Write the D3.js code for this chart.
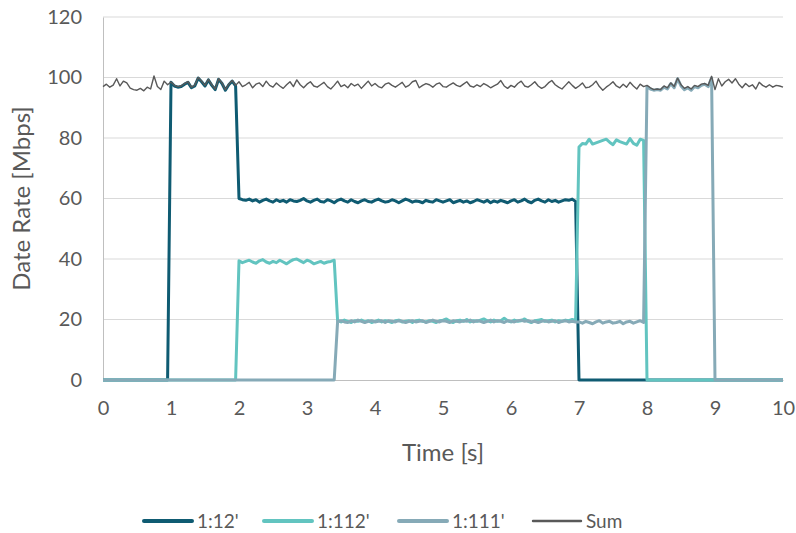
<!DOCTYPE html>
<html>
<head>
<meta charset="utf-8">
<script src="https://cdn.jsdelivr.net/npm/d3@7"></script>
<style>
	body { margin: 0; background: #fff; }
	svg text { font-family: Lato, "Open Sans", sans-serif; fill: #595959; }
</style>
</head>
<body>
<div id="chart"></div>
<script>
// Samples every 0.05 s, from 0 to 10 s (201 samples per series)
const sampleStep = 0.05;

const seriesNames = ["1:12'", "1:112'", "1:111'", "Sum"];
const xTicks = [0, 1, 2, 3, 4, 5, 6, 7, 8, 9, 10];
const yTicks = [0, 20, 40, 60, 80, 100, 120];

const rate12 = [
	0, 0, 0, 0, 0, 0, 0, 0, 0, 0, 0, 0, 0, 0, 0, 0, 0, 0, 0, 0,
	98.4, 97.2, 96.8, 97.0, 97.8, 98.4, 96.6, 97.2, 99.8, 98.6, 97.2, 99.2, 97.4, 96.0, 99.4, 98.0, 95.8, 97.6, 98.8, 97.2,
	60.0, 59.6, 59.4, 59.8, 59.2, 59.6, 58.8, 59.4, 59.8, 59.2, 58.8, 59.6, 59.0, 59.4, 58.8, 59.6, 59.2, 59.0, 59.4, 60.0,
	59.2, 58.8, 59.4, 59.8, 59.0, 58.8, 59.6, 59.2, 58.6, 59.4, 59.8, 59.2, 58.8, 59.6, 59.0, 58.6, 59.2, 59.6, 59.0, 58.8,
	59.4, 59.8, 59.2, 58.8, 59.0, 59.6, 59.2, 58.6, 59.2, 59.8, 59.4, 58.8, 59.2, 59.0, 58.6, 59.4, 59.0, 58.8, 59.6, 59.2,
	58.8, 59.2, 59.6, 58.6, 59.0, 59.4, 58.8, 59.2, 58.6, 59.0, 59.6, 59.2, 58.8, 59.4, 58.6, 59.2, 58.8, 59.4, 59.0, 58.6,
	59.2, 59.6, 58.8, 59.2, 59.8, 59.0, 58.6, 59.4, 59.8, 59.2, 58.8, 59.6, 59.0, 59.4, 58.8, 59.2, 59.6, 59.4, 59.8, 59.0,
	0, 0, 0, 0, 0, 0, 0, 0, 0, 0, 0, 0, 0, 0, 0, 0, 0, 0, 0, 0,
	0, 0, 0, 0, 0, 0, 0, 0, 0, 0, 0, 0, 0, 0, 0, 0, 0, 0, 0, 0,
	0, 0, 0, 0, 0, 0, 0, 0, 0, 0, 0, 0, 0, 0, 0, 0, 0, 0, 0, 0,
	0
];

const rate112 = [
	0, 0, 0, 0, 0, 0, 0, 0, 0, 0, 0, 0, 0, 0, 0, 0, 0, 0, 0, 0,
	0, 0, 0, 0, 0, 0, 0, 0, 0, 0, 0, 0, 0, 0, 0, 0, 0, 0, 0, 0,
	39.4, 38.8, 39.2, 39.6, 39.0, 38.6, 39.4, 39.8, 39.0, 38.6, 39.2, 38.8, 39.6, 39.0, 38.4, 39.2, 39.8, 40.0, 39.4, 38.8,
	39.6, 39.2, 38.4, 38.8, 39.2, 38.6, 39.0, 39.2, 39.6,
	19.6, 19.2, 19.8, 19.4, 19.0, 19.6, 19.4, 19.8, 19.2, 19.6,
	19.0, 19.4, 19.8, 19.2, 19.6, 19.4, 19.0, 19.6, 19.8, 19.2,
	19.4, 19.6, 19.0, 19.6, 19.8, 19.4, 19.2, 19.6, 19.4, 19.0,
	19.6, 19.8, 20.2, 19.4, 19.0, 19.6, 19.8, 19.4, 20.0, 19.2,
	19.6, 19.4, 19.8, 20.2, 19.6, 19.2, 19.8, 19.4, 19.6, 20.4,
	19.6, 19.2, 19.8, 19.4, 19.6, 20.2, 19.4, 19.0, 19.6, 19.8,
	20.0, 19.4, 19.6, 19.8, 19.2, 19.6, 19.4, 19.8, 19.6, 20.0,
	19.6,
	77.0, 78.2, 78.0, 79.6, 78.0, 78.4, 78.8, 79.2, 79.6, 78.6, 77.8, 79.4, 78.8, 78.4, 78.0, 79.8, 78.2, 77.6, 79.6, 79.2,
	0, 0, 0, 0, 0, 0, 0, 0, 0, 0, 0, 0, 0, 0, 0, 0, 0, 0, 0, 0,
	0, 0, 0, 0, 0, 0, 0, 0, 0, 0, 0, 0, 0, 0, 0, 0, 0, 0, 0, 0,
	0
];

const rate111 = [
	0, 0, 0, 0, 0, 0, 0, 0, 0, 0, 0, 0, 0, 0, 0, 0, 0, 0, 0, 0,
	0, 0, 0, 0, 0, 0, 0, 0, 0, 0, 0, 0, 0, 0, 0, 0, 0, 0, 0, 0,
	0, 0, 0, 0, 0, 0, 0, 0, 0, 0, 0, 0, 0, 0, 0, 0, 0, 0, 0, 0,
	0, 0, 0, 0, 0, 0, 0, 0, 0,
	19.4, 19.6, 19.2, 19.0, 19.6, 19.2, 19.8, 19.4, 19.0, 19.4,
	19.6, 19.2, 19.4, 19.6, 19.0, 19.6, 19.4, 19.2, 19.6, 19.4,
	19.0, 19.4, 19.6, 19.2, 19.4, 19.6, 19.0, 19.4, 19.8, 19.4,
	19.2, 19.6, 19.4, 19.0, 19.6, 19.4, 19.2, 19.6, 19.4, 19.8,
	19.2, 19.6, 19.4, 19.0, 19.4, 19.8, 19.2, 19.6, 19.4, 19.0,
	19.6, 19.4, 19.2, 19.6, 19.8, 19.4, 19.6, 19.2, 19.4, 19.0,
	19.4, 19.6, 19.2, 19.4, 19.6, 19.0, 19.4, 19.6, 19.2, 19.4,
	19.2,
	19.2, 18.8, 19.4, 19.0, 18.6, 19.2, 19.6, 18.8, 19.2, 19.4, 18.8, 19.0, 19.4, 18.6, 19.2, 19.4, 18.8, 19.2, 19.6, 19.0,
	97.0, 96.2, 95.8, 96.0, 95.8, 96.8, 96.2, 98.0, 96.6, 99.6, 97.2, 96.0, 96.6, 95.8, 97.0, 96.6, 97.4, 97.8, 97.0, 99.8,
	0, 0, 0, 0, 0, 0, 0, 0, 0, 0, 0, 0, 0, 0, 0, 0, 0, 0, 0, 0,
	0
];

const rateSum = [
	97.0, 97.8, 96.8, 97.5, 99.6, 97.2, 98.8, 98.2, 96.5, 96.0, 95.8, 96.4, 95.6, 96.8, 96.2, 100.5, 97.0, 96.0, 98.8, 97.6,
	98.5, 97.4, 97.0, 97.2, 98.0, 98.6, 96.8, 97.5, 100.0, 98.8, 97.4, 99.4, 97.6, 96.2, 99.6, 98.2, 96.0, 97.8, 99.0, 97.4,
	98.6, 97.0, 97.6, 98.4, 96.6, 97.8, 98.2, 97.0, 98.8, 97.4, 96.8, 98.2, 97.2, 96.4, 97.6, 98.6, 97.0, 99.2, 97.6, 96.6,
	97.8, 98.6, 97.2, 96.8, 97.6, 98.4, 97.0, 96.2, 97.4, 98.8, 97.0, 97.6, 96.6, 98.0, 97.2, 97.8, 96.4, 97.6, 98.8, 97.2,
	98.0, 97.0, 96.6, 97.8, 98.2, 97.4, 96.8, 97.6, 98.4, 96.8, 97.4, 98.6, 99.0, 96.6, 97.4, 98.0, 97.6, 96.8, 97.8, 98.2,
	97.0, 96.8, 97.6, 98.2, 97.4, 97.0, 97.8, 98.6, 97.2, 96.8, 97.6, 97.0, 98.0, 97.4, 96.6, 97.2, 97.8, 99.0, 97.2, 96.4,
	97.4, 96.8, 98.0, 98.8, 97.2, 96.8, 97.6, 98.6, 97.2, 96.4, 97.0, 98.2, 99.0, 97.6, 96.8, 96.2, 97.4, 98.6, 97.4, 96.4,
	97.2, 98.2, 96.6, 96.8, 97.6, 98.8, 97.0, 95.8, 96.8, 97.6, 98.6, 97.2, 96.6, 97.8, 96.8, 98.4, 97.2, 96.2, 97.8, 97.0,
	97.4, 96.6, 96.0, 96.2, 96.0, 97.2, 96.6, 98.2, 97.0, 99.8, 97.6, 96.4, 97.0, 96.2, 97.4, 97.0, 97.8, 98.0, 97.4, 100.4,
	96.0, 99.6, 97.2, 98.6, 99.4, 98.2, 99.6, 97.8, 96.6, 98.0, 97.0, 97.6, 96.2, 98.4, 97.4, 96.8, 97.6, 96.8, 97.4, 97.2,
	96.8
];

const seriesValues = [rate12, rate112, rate111, rateSum];
const seriesColors = ["#0f5b72", "#62c4c0", "#86aab7", "#595959"];
const seriesWidths = [3, 3, 3, 1.4];

const width = 796, height = 533;
const margin = { top: 17, right: 13, bottom: 153, left: 103 };

const svg = d3.select('#chart').append('svg')
	.attr('width', width)
	.attr('height', height);

const x = d3.scaleLinear()
	.domain([0, 10])
	.range([margin.left, width - margin.right]);

const y = d3.scaleLinear()
	.domain([0, 120])
	.range([height - margin.bottom, margin.top]);

// gridlines
svg.append('g')
	.selectAll('line')
	.data(yTicks.filter(d => d > 0))
	.enter()
		.append('line')
			.attr('x1', x(0))
			.attr('x2', x(10))
			.attr('y1', d => y(d))
			.attr('y2', d => y(d))
			.style('stroke', '#d9d9d9')
			.style('stroke-width', 1);

// axes
const yAxis = svg.append('g')
	.attr('transform', `translate(${x(0)},0)`)
	.call(d3.axisLeft(y).tickValues(yTicks).tickSize(0).tickPadding(21));
yAxis.select('.domain').style('stroke', '#bfbfbf');
yAxis.selectAll('text').style('font-size', '20px').attr('fill', '#595959');

const xAxis = svg.append('g')
	.attr('transform', `translate(0,${y(0)})`)
	.call(d3.axisBottom(x).tickValues(xTicks).tickSize(0).tickPadding(21));
xAxis.select('.domain').style('stroke', '#bfbfbf');
xAxis.selectAll('text').style('font-size', '20px').attr('fill', '#595959');

svg.append('text')
	.attr('transform', `translate(30,${(y(0) + y(120)) / 2}) rotate(-90)`)
	.attr('text-anchor', 'middle')
	.style('font-size', '24px')
	.text('Date Rate [Mbps]');

svg.append('text')
	.attr('x', (x(0) + x(10)) / 2)
	.attr('y', 461)
	.attr('text-anchor', 'middle')
	.style('font-size', '24px')
	.text('Time [s]');

// series lines
const line = d3.line()
	.x((d, i) => x(i * sampleStep))
	.y(d => y(d));

svg.append('g')
	.selectAll('path')
	.data(seriesValues)
	.enter()
		.append('path')
			.attr('d', line)
			.style('fill', 'none')
			.style('stroke', (d, i) => seriesColors[i])
			.style('stroke-width', (d, i) => seriesWidths[i])
			.style('stroke-linejoin', 'round');

// legend
const legendX = [144, 264, 399, 533];
const legend = svg.append('g')
	.selectAll('g')
	.data(seriesNames)
	.enter()
		.append('g')
			.attr('transform', (d, i) => `translate(${legendX[i]},521)`);

legend.append('line')
	.attr('x1', 0)
	.attr('x2', 48)
	.style('stroke', (d, i) => seriesColors[i])
	.style('stroke-width', (d, i) => seriesWidths[i] + 1)
	.style('stroke-linecap', 'round');

legend.append('text')
	.attr('x', 53)
	.attr('y', 7)
	.style('font-size', '19px')
	.text(d => d);
</script>
</body>
</html>
